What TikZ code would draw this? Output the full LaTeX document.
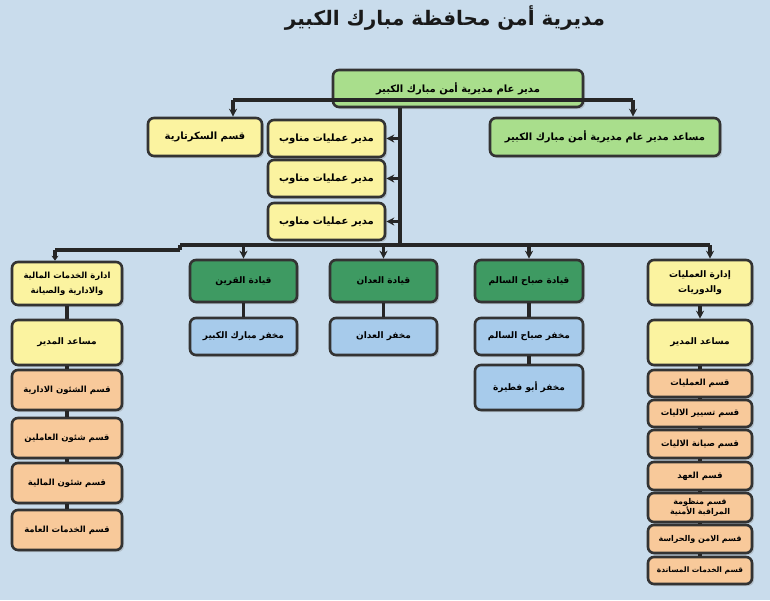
\documentclass[tikz,border=0pt]{standalone}
\usepackage{fontspec}
\newfontfamily\arabicfont[Script=Arabic]{DejaVu Sans}
\TeXXeTstate=1
\usetikzlibrary{arrows.meta,shadows}
\newcommand{\ar}[1]{{\arabicfont\bfseries\beginR #1\endR}}
\definecolor{bg}{HTML}{C9DCEC}
\definecolor{yel}{HTML}{FBF3A0}
\definecolor{lgr}{HTML}{A9DE8C}
\definecolor{dgr}{HTML}{3E9A62}
\definecolor{blu}{HTML}{A7CBEB}
\definecolor{org}{HTML}{F8C99A}
\tikzset{
 bx/.style={draw=black!80,line width=2.6pt,rounded corners=6pt,align=center,inner sep=2pt,drop shadow={opacity=0.3,shadow xshift=2pt,shadow yshift=-2pt}},
 ln/.style={line width=3.5pt,black!85},
 ar/.style={ln,-{Stealth[length=8pt,width=8pt]}},
 tA/.style={font=\fontsize{10}{13}\selectfont,align=center},
 tB/.style={font=\fontsize{9}{12}\selectfont,align=center},
 tC/.style={font=\fontsize{8.5}{11}\selectfont,align=center}
}
\begin{document}
\begin{tikzpicture}[x=1pt,y=-1pt]
\fill[bg] (0,0) rectangle (770,600);
\useasboundingbox (0,0) rectangle (770,600);
\node[font=\fontsize{20}{22}\selectfont,text=black!90] (title) at (445,18) {\ar{مديرية أمن محافظة مبارك الكبير}};
\newcommand{\bxat}[6]{\node[bx,fill=#5,minimum width=#3-#1,minimum height=#4-#2] (#6) at ({(#1+#3)/2},{(#2+#4)/2}) {};}
\bxat{333}{70}{583}{107}{lgr}{top}
\node[tA] at (top) {\ar{مدير عام مديرية أمن مبارك الكبير}};
\bxat{148}{118}{262}{156}{yel}{sec}
\node[tA] at (sec) {\ar{قسم السكرتارية}};
\bxat{490}{118}{720}{156}{lgr}{asst}
\node[tA] at (asst) {\ar{مساعد مدير عام مديرية أمن مبارك الكبير}};
\bxat{268}{120}{385}{157}{yel}{m1}
\bxat{268}{160}{385}{197}{yel}{m2}
\bxat{268}{203}{385}{240}{yel}{m3}
\foreach \n in {m1,m2,m3} \node[tA] at (\n) {\ar{مدير عمليات مناوب}};
\bxat{12}{262}{122}{305}{yel}{fin}
\node[tC,font=\fontsize{8.5}{15}\selectfont] at (fin) {\ar{ادارة الخدمات المالية}\\\ar{والادارية والصيانة}};
\bxat{648}{260}{752}{305}{yel}{ops}
\node[tB,font=\fontsize{9}{15}\selectfont] at (ops) {\ar{إدارة العمليات}\\\ar{والدوريات}};
\bxat{190}{260}{297}{302}{dgr}{q1}
\bxat{330}{260}{437}{302}{dgr}{q2}
\bxat{475}{260}{583}{302}{dgr}{q3}
\node[tB] at (q1) {\ar{قيادة القرين}};
\node[tB] at (q2) {\ar{قيادة العدان}};
\node[tB] at (q3) {\ar{قيادة صباح السالم}};
\bxat{190}{318}{297}{355}{blu}{p1}
\bxat{330}{318}{437}{355}{blu}{p2}
\bxat{475}{318}{583}{355}{blu}{p3}
\bxat{475}{365}{583}{410}{blu}{p4}
\node[tB] at (p1) {\ar{مخفر مبارك الكبير}};
\node[tB] at (p2) {\ar{مخفر العدان}};
\node[tB] at (p3) {\ar{مخفر صباح السالم}};
\node[tB] at (p4) {\ar{مخفر أبو فطيرة}};
\bxat{12}{320}{122}{365}{yel}{la}
\bxat{648}{320}{752}{365}{yel}{ra}
\node[tB] at (la) {\ar{مساعد المدير}};
\node[tB] at (ra) {\ar{مساعد المدير}};
\bxat{12}{370}{122}{410}{org}{l1}
\bxat{12}{418}{122}{458}{org}{l2}
\bxat{12}{463}{122}{503}{org}{l3}
\bxat{12}{510}{122}{550}{org}{l4}
\node[tC] at (l1) {\ar{قسم الشئون الادارية}};
\node[tC] at (l2) {\ar{قسم شئون العاملين}};
\node[tC] at (l3) {\ar{قسم شئون المالية}};
\node[tC] at (l4) {\ar{قسم الخدمات العامة}};
\bxat{648}{370}{752}{397}{org}{r1}
\bxat{648}{400}{752}{427}{org}{r2}
\bxat{648}{430}{752}{458}{org}{r3}
\bxat{648}{462}{752}{490}{org}{r4}
\bxat{648}{493}{752}{522}{org}{r5}
\bxat{648}{525}{752}{553}{org}{r6}
\bxat{648}{557}{752}{584}{org}{r7}
\node[tC] at (r1) {\ar{قسم العمليات}};
\node[tC] at (r2) {\ar{قسم تسيير الاليات}};
\node[tC] at (r3) {\ar{قسم صيانة الاليات}};
\node[tC] at (r4) {\ar{قسم العهد}};
\node[tC,font=\fontsize{8}{10}\selectfont] at (r5) {\ar{قسم منظومة}\\\ar{المراقبة الأمنية}};
\node[tC,font=\fontsize{8}{10}\selectfont] at (r6) {\ar{قسم الامن والحراسة}};
\node[tC,font=\fontsize{7.5}{10}\selectfont] at (r7) {\ar{قسم الخدمات المساندة}};
% connectors
\coordinate (t1) at (400,100); \coordinate (tl) at (233,100); \coordinate (tr) at (633,100);
\coordinate (b0) at (400,245);
\draw[ln] (tl) -- (tr);
\draw[ar] (tl) -- (tl|-sec.north);
\draw[ar] (tr) -- (tr|-asst.north);
\draw[ln] (top.south -| t1) -- (b0);
\foreach \n in {m1,m2,m3} \draw[ar] (t1|-\n.east) -- (\n.east);
\coordinate (bl) at (180,245); \coordinate (br) at (710,245);
\draw[ln] (bl) -- (br);
\draw[ln] (bl) -- (180,250) coordinate (bl2);
\draw[ln] (bl2) -- (55,250) coordinate (bl3);
\draw[ln,-{Stealth[length=5pt,width=7pt]}] (bl3) -- (bl3|-fin.north);
\draw[ar] (br) -- (br|-ops.north);
\foreach \n in {q1,q2,q3} \draw[ar] (\n.north|-br) -- (\n.north);
\draw[ln] (q1.south) -- (p1.north); \draw[ln] (q2.south) -- (p2.north);
\draw[ln] (q3.south) -- (p3.north); \draw[ln] (p3.south) -- (p4.north);
\draw[ln] (fin.south) -- (la.north);
\draw[ln] (la.south) -- (l1.north); \draw[ln] (l1.south) -- (l2.north);
\draw[ln] (l2.south) -- (l3.north); \draw[ln] (l3.south) -- (l4.north);
\draw[ar] (ops.south) -- (ra.north);
\draw[ln] (ra.south) -- (r1.north);
\foreach \a/\b in {r1/r2,r2/r3,r3/r4,r4/r5,r5/r6,r6/r7} \draw[ln] (\a.south) -- (\b.north);
\end{tikzpicture}
\end{document}
